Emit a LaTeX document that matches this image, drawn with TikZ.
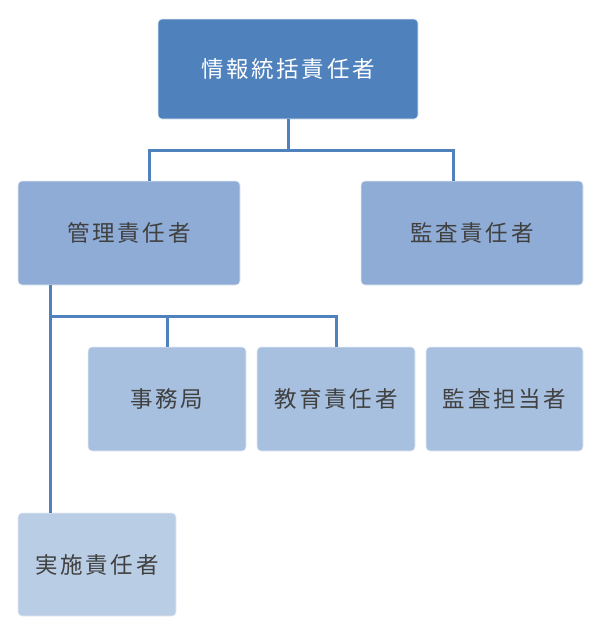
\documentclass[tikz,border=0pt]{standalone}
\usepackage{fontspec}
\setmainfont{Noto Sans CJK JP}[LetterSpace=12]
\usepackage{tikz}
\usetikzlibrary{positioning}

\definecolor{topblue}{HTML}{4F81BD}
\definecolor{midblue}{HTML}{8EACD5}
\definecolor{lowblue}{HTML}{A7C0DF}
\definecolor{botblue}{HTML}{B9CDE5}
\definecolor{linkblue}{HTML}{4F81BD}
\definecolor{textgray}{HTML}{404040}

\tikzset{
    orgbox/.style={rectangle, rounded corners=4pt, draw=white!85!topblue, line width=0.6pt,
        font=\fontsize{22.5}{26}\selectfont, text=textgray, inner sep=0pt},
    link/.style={draw=linkblue, line width=3pt}
}

\begin{document}
\begin{tikzpicture}[x=1pt, y=-1pt]
    % canvas
    \useasboundingbox (0,0) rectangle (602,635);

    % boxes
    \node[orgbox, fill=topblue, text=white, minimum width=260pt, minimum height=100pt] (chief) at (288,69) {情報統括責任者};
    \node[orgbox, fill=midblue, minimum width=222pt, minimum height=104pt] (kanri) at (129,233) {管理責任者};
    \node[orgbox, fill=midblue, minimum width=222pt, minimum height=104pt] (kansa) at (472,233) {監査責任者};
    \node[orgbox, fill=lowblue, minimum width=158pt, minimum height=104pt] (jimu) at (167,399) {事務局};
    \node[orgbox, fill=lowblue, minimum width=158pt, minimum height=104pt] (kyoiku) at (336,399) {教育責任者};
    \node[orgbox, fill=lowblue, minimum width=157pt, minimum height=104pt] (tanto) at (504.5,399) {監査担当者};
    \node[orgbox, fill=botblue, minimum width=158pt, minimum height=103pt] (jisshi) at (97,564.5) {実施責任者};

    % connectors
    \coordinate (split1) at (288,150);
    \coordinate (split2) at (50,316);
    \draw[link] (chief.south) -- (split1);
    \draw[link] (split1) -| ([xshift=20pt]kanri.north);
    \draw[link] (split1) -| ([xshift=-19pt]kansa.north);
    \draw[link] ([xshift=-79pt]kanri.south) -- ([xshift=-47pt]jisshi.north);
    \draw[link] (split2) -| (jimu.north);
    \draw[link] (split2) -| (kyoiku.north);
\end{tikzpicture}
\end{document}
